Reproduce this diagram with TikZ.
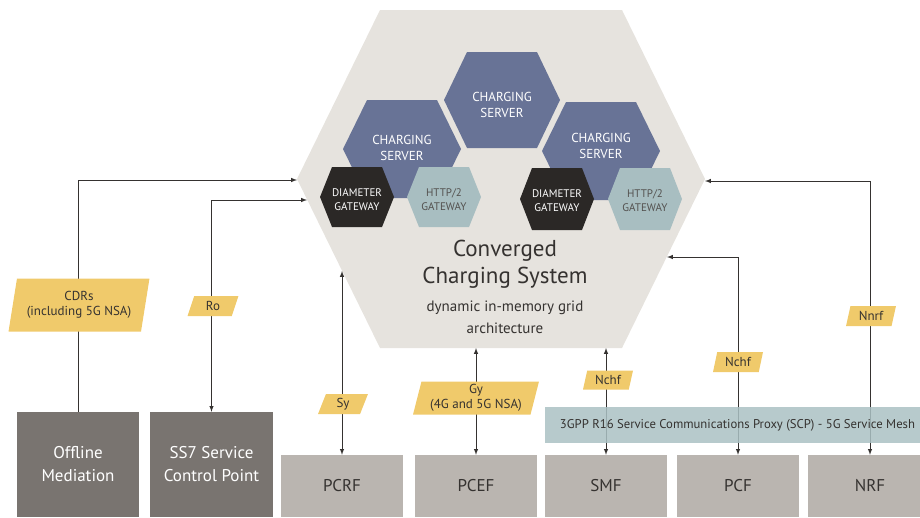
\documentclass[tikz,border=0pt]{standalone}
\usepackage{fontspec}
\setmainfont{PT Sans}
\usetikzlibrary{shapes.geometric}

\definecolor{hexbg}{HTML}{E6E3DE}
\definecolor{srvblue}{HTML}{687396}
\definecolor{gwdark}{HTML}{2B2826}
\definecolor{gwlight}{HTML}{A8BEC1}
\definecolor{boxdark}{HTML}{797470}
\definecolor{boxlight}{HTML}{BAB5B0}
\definecolor{meshbar}{HTML}{AAC1C3}
\definecolor{tagyellow}{HTML}{F0CA6B}
\definecolor{ink}{HTML}{353230}

% hexagon: centre x, centre y, half width, half height, inset, fill
\newcommand{\hexa}[6]{%
  \fill [#6] (#1-#3,#2) -- (#1-#3+#5,#2-#4) -- (#1+#3-#5,#2-#4) -- (#1+#3,#2)
    -- (#1+#3-#5,#2+#4) -- (#1-#3+#5,#2+#4) -- cycle;}

\tikzset{
  server/.style = {text = white, align = center, font = \fontsize{13}{16}\selectfont},
  gateway/.style = {align = center, font = \fontsize{11}{14}\selectfont},
  system/.style = {minimum width = 122pt, align = center, inner sep = 0pt,
    font = \fontsize{17}{23}\selectfont},
  tag/.style = {trapezium, trapezium left angle = 76, trapezium right angle = 104,
    trapezium stretches = true, fill = tagyellow, text = ink, align = center,
    inner sep = 1pt, font = \fontsize{13}{15}\selectfont},
  link/.style = {draw = ink, line width = 1pt}
}

\begin{document}
\begin{tikzpicture}[> = latex, x = 1pt, y = -1pt]

	\useasboundingbox (0,0) rectangle (920,517);

	% Converged charging system

	\hexa{501}{179}{204}{169}{83}{hexbg}
	\coordinate (ccsW) at (297,180);
	\coordinate (ccsRo) at (307,200);
	\coordinate (ccsSy) at (342,271);
	\coordinate (ccsS) at (501,348);
	\coordinate (ccsNchf) at (667,257);
	\coordinate (ccsE) at (705,181);

	\node [text = ink, align = center, font = \fontsize{23}{27}\selectfont] (ccs) at (505,264) {Converged\\Charging System};
	\node [text = ink, align = center, font = \fontsize{15}{22}\selectfont] (grid) at (505,317) {dynamic in-memory grid\\architecture};

	% Charging servers

	\hexa{502}{100}{58}{48}{23}{srvblue}
	\hexa{402}{149}{59}{49}{24}{srvblue}
	\hexa{601}{151}{59}{49}{24}{srvblue}

	\node [server] (srvTop) at (502,105) {CHARGING\\SERVER};
	\node [server] (srvLeft) at (402,148) {CHARGING\\SERVER};
	\node [server] (srvRight) at (601,146) {CHARGING\\SERVER};

	% Gateways

	\hexa{357}{197}{37}{30}{12}{gwdark}
	\hexa{444}{197}{37}{30}{12}{gwlight}
	\hexa{557}{199}{37}{31}{12}{gwdark}
	\hexa{645}{199}{37}{31}{12}{gwlight}

	\node [gateway, text = white] (diaLeft) at (357,200) {DIAMETER\\GATEWAY};
	\node [gateway, text = ink!85] (httpLeft) at (444,200) {HTTP/2\\GATEWAY};
	\node [gateway, text = white] (diaRight) at (557,201) {DIAMETER\\GATEWAY};
	\node [gateway, text = ink!85] (httpRight) at (645,201) {HTTP/2\\GATEWAY};

	% Network elements

	\node [system, fill = boxdark, text = white, minimum height = 105pt] (offline) at (78,464.5) {Offline\\Mediation};
	\node [system, fill = boxdark, text = white, minimum height = 105pt, minimum width = 123pt] (scp) at (211.5,464.5) {SS7 Service\\Control Point};

	\node [system, fill = boxlight, text = ink, minimum height = 62pt] (pcrf) at (342,486) {PCRF};
	\node [system, fill = boxlight, text = ink, minimum height = 62pt] (pcef) at (476,486) {PCEF};
	\node [system, fill = boxlight, text = ink, minimum height = 62pt] (smf) at (606,486) {SMF};
	\node [system, fill = boxlight, text = ink, minimum height = 62pt] (pcf) at (738,486) {PCF};
	\node [system, fill = boxlight, text = ink, minimum height = 62pt, minimum width = 124pt] (nrf) at (870,486) {NRF};

	% Interfaces

	\draw [link, ->] (offline.north) |- (ccsW);
	\draw [link, <->] (scp.north) |- (ccsRo);
	\draw [link, <->] (pcrf.north) -- (pcrf.north |- ccsSy);
	\draw [link, <->] (pcef.north) -- (pcef.north |- ccsS);
	\draw [link, <->] (smf.north) -- (smf.north |- ccsS);
	\draw [link, <->] (pcf.north) |- (ccsNchf);
	\draw [link, <->] (nrf.north) |- (ccsE);

	% Service mesh

	\node [fill = meshbar, fill opacity = 0.85, text opacity = 1, text = ink, minimum width = 385pt,
		minimum height = 36pt, inner sep = 0pt, font = \fontsize{12.7}{14}\selectfont] (mesh) at (737.5,425)
		{3GPP R16 Service Communications Proxy (SCP) - 5G Service Mesh};

	% Interface labels

	\node [tag, minimum width = 141pt, minimum height = 53pt] (cdrTag) at (79,305) {CDRs\\(including 5G NSA)};
	\node [tag, minimum width = 51pt, minimum height = 20pt] (roTag) at (213,306) {Ro};
	\node [tag, minimum width = 50pt, minimum height = 20pt] (syTag) at (343,404) {Sy};
	\node [tag, minimum width = 126pt, minimum height = 33pt] (gyTag) at (476,398) {Gy\\(4G and 5G NSA)};
	\node [tag, minimum width = 50pt, minimum height = 19pt] (nchfSmf) at (608,380) {Nchf};
	\node [tag, minimum width = 50pt, minimum height = 20pt] (nchfPcf) at (738,362) {Nchf};
	\node [tag, minimum width = 50pt, minimum height = 20pt] (nnrfTag) at (871,316) {Nnrf};

\end{tikzpicture}
\end{document}
